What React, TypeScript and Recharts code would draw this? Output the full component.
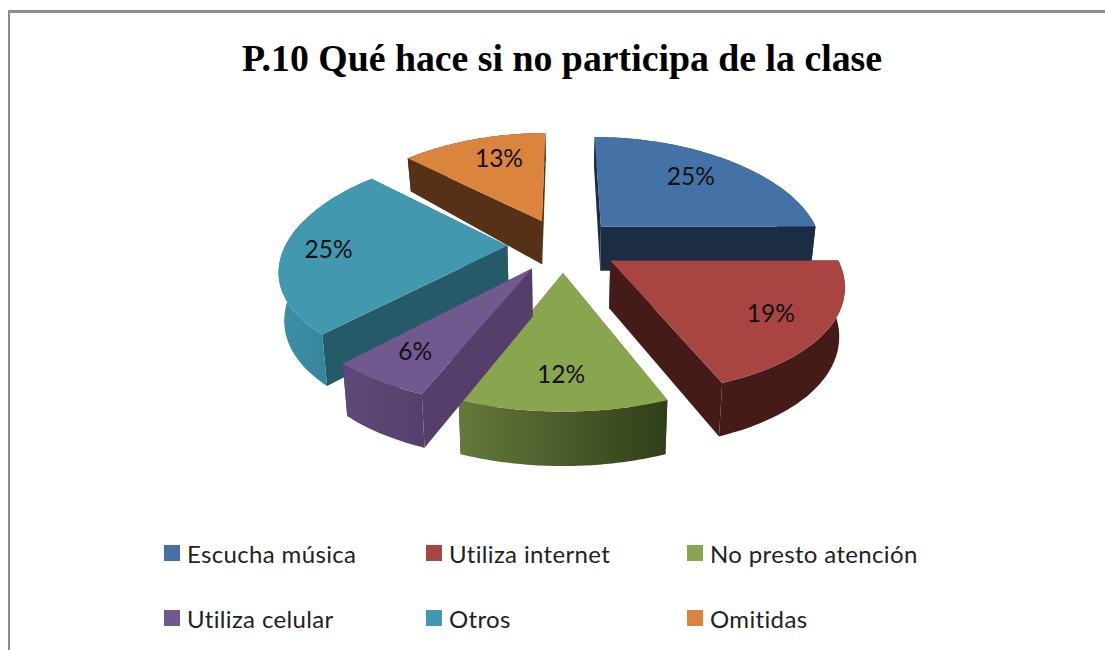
import { PieChart, Pie, Legend } from 'recharts';

const categories = ['Escucha música', 'Utiliza internet', 'No presto atención', 'Utiliza celular', 'Otros', 'Omitidas'];
const percents = [25, 19, 12, 6, 25, 13];

const topColors = ['#4472A6', '#A84543', '#89A54E', '#71588F', '#4198AF', '#DB843D'];
const sideColors = ['#1B2D44', '#451B18', '#3F5123', '#553F6A', '#255A68', '#573116'];
const wallStart = ['#1B2D44', '#451B18', '#65793A', '#604979', '#3E8FA5', '#573116'];
const wallEnd = ['#1B2D44', '#451B18', '#2F3F1A', '#553F6A', '#2E7C90', '#573116'];

const pieData = categories.map((name, i) => ({ name, value: percents[i], fill: topColors[i] }));

// slices painted first, the rest go over them
const backSlices = [0, 4, 5];
const frontSlices = [1, 2, 3];

// fake 3D projection
const EXPLODE = 0.25;
const FLATTEN = 108;
const CAMERA = 6.6;
const WIDEN = 0.042;
const LABEL_RADIUS = 0.76;
const labelNudge = [-11, 0, -2, -5, -9, 11];
const RAD = Math.PI / 180;

const wallHeight = (v: number) => (v > 0 ? 47 - 15 * v : 47 - 6 * v);

function project(cx: number, cy: number, r: number, u: number, v: number, bottom = false) {
  const s = CAMERA / (CAMERA + v);
  const x = u * r * s * (1 - WIDEN * v);
  const y = -v * FLATTEN * s;
  if (!bottom) return [cx + x, cy + y];
  return [cx + x * 0.98, cy + y + wallHeight(v)];
}

const toPath = (pts: number[][]) =>
  'M' + pts.map(p => `${p[0].toFixed(1)},${p[1].toFixed(1)}`).join('L') + 'Z';

function Slice3D(props: any, only: number[]) {
  const { cx, cy, outerRadius, startAngle, endAngle, midAngle, index } = props;
  if (!only.includes(index)) return <g />;

  const u0 = EXPLODE * Math.cos(midAngle * RAD);
  const v0 = EXPLODE * Math.sin(midAngle * RAD);
  const steps = 60;
  const rim: number[][] = [];
  for (let i = 0; i <= steps; i++) {
    const a = (startAngle + ((endAngle - startAngle) * i) / steps) * RAD;
    rim.push([u0 + Math.cos(a), v0 + Math.sin(a)]);
  }
  const top = (p: number[]) => project(cx, cy, outerRadius, p[0], p[1]);
  const low = (p: number[]) => project(cx, cy, outerRadius, p[0], p[1], true);
  const apex = [u0, v0];
  const first = rim[0];
  const last = rim[steps];

  const sideWall = (p: number[]) => toPath([top(apex), top(p), low(p), low(apex)]);
  const outerWall = toPath([...rim.map(top), ...rim.slice().reverse().map(low)]);
  const face = toPath([top(apex), ...rim.map(top)]);

  return (
    <g>
      <path d={sideWall(first)} fill={sideColors[index]} />
      <path d={sideWall(last)} fill={sideColors[index]} />
      <path d={outerWall} fill={`url(#wall${index})`} />
      <path d={face} fill={topColors[index]} />
    </g>
  );
}

const renderLabel = (props: any) => {
  const { cx, cy, outerRadius, midAngle, value, index } = props;
  const c = Math.cos(midAngle * RAD);
  const s = Math.sin(midAngle * RAD);
  const k = EXPLODE + LABEL_RADIUS;
  const [x, y] = project(cx, cy, outerRadius, k * c, k * s);
  return (
    <text x={x + labelNudge[index]} y={y} textAnchor="middle" dominantBaseline="central" fontFamily="Lato" fontSize={24.5} fill="#111">
      {value}%
    </text>
  );
};

const renderLegend = () => (
  <div style={{ display: 'grid', gridTemplateColumns: '262px 261px 300px', gridAutoRows: '65px' }}>
    {pieData.map(d => (
      <div key={d.name} style={{ display: 'flex', alignItems: 'center', height: 20 }}>
        <span style={{ width: 16, height: 16, background: d.fill, marginRight: 7 }} />
        <span style={{ fontFamily: 'Lato', fontSize: 24, letterSpacing: 0.35, color: '#222', whiteSpace: 'nowrap' }}>{d.name}</span>
      </div>
    ))}
  </div>
);

export default function App() {
  return (
    <div style={{ position: 'absolute', left: 0, top: 0, width: 1105, height: 650, background: '#fff', overflow: 'hidden' }}>
      <div style={{ position: 'absolute', left: 8, top: 10, right: 0, bottom: 0, borderTop: '3px solid #8c8c8c', borderLeft: '2px solid #8c8c8c' }} />
      <PieChart width={1105} height={650} style={{ position: 'absolute', left: 0, top: 0 }}>
        <defs>
          {categories.map((c, i) => (
            <linearGradient key={c} id={`wall${i}`} x1="0" y1="0" x2="1" y2="0">
              <stop offset="0%" stopColor={wallStart[i]} />
              <stop offset="100%" stopColor={wallEnd[i]} />
            </linearGradient>
          ))}
        </defs>
        <text x={562} y={58} textAnchor="middle" dominantBaseline="central" fontFamily="Liberation Serif" fontWeight="bold" fontSize={37.8} fill="#000">
          P.10 Qué hace si no participa de la clase
        </text>
        <Pie
          data={pieData}
          dataKey="value"
          nameKey="name"
          cx={558}
          cy={240}
          outerRadius={222}
          startAngle={90}
          endAngle={-270}
          isAnimationActive={false}
          legendType="none"
          shape={(p: any) => Slice3D(p, backSlices)}
        />
        <Pie
          data={pieData}
          dataKey="value"
          nameKey="name"
          cx={558}
          cy={240}
          outerRadius={222}
          startAngle={90}
          endAngle={-270}
          isAnimationActive={false}
          shape={(p: any) => Slice3D(p, frontSlices)}
          label={renderLabel}
          labelLine={false}
        />
        <Legend content={renderLegend} wrapperStyle={{ left: 164, top: 543, width: 830, bottom: 'auto' }} />
      </PieChart>
    </div>
  );
}
